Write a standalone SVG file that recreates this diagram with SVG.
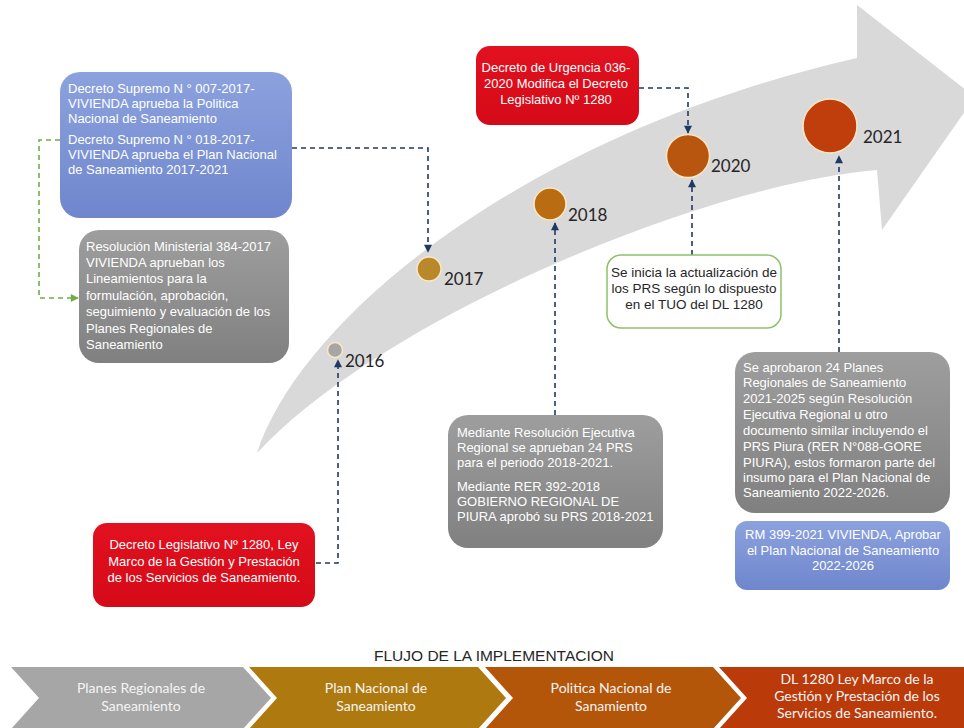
<svg xmlns="http://www.w3.org/2000/svg" width="964" height="728" viewBox="0 0 964 728">
<style>
.bt{font-family:"Liberation Sans",Arial,sans-serif;font-size:13px;fill:#ffffff}
.dk{font-family:"Liberation Sans",Arial,sans-serif;font-size:13.5px;fill:#262626}
.yr{font-family:Lato,"Open Sans",sans-serif;font-size:17px;fill:#262626}
.ch{font-family:Lato,"Open Sans",sans-serif;font-size:14px;fill:#f5f5f5}
.ttl{font-family:"Liberation Sans",Arial,sans-serif;font-size:15.5px;fill:#262626}
.cn{fill:none;stroke:#1f3864;stroke-width:1.6;stroke-dasharray:5 4}
.cg{fill:none;stroke:#70ad47;stroke-width:1.6;stroke-dasharray:5 4}
.dot{stroke:#fbe7c2;stroke-width:1.5}
</style>
<defs>
<linearGradient id="gBlue" x1="0" y1="0" x2="0" y2="1"><stop offset="0" stop-color="#8ca2de"/><stop offset="1" stop-color="#6f86cd"/></linearGradient>
<linearGradient id="gGray" x1="0" y1="0" x2="0" y2="1"><stop offset="0" stop-color="#9e9e9e"/><stop offset="1" stop-color="#808080"/></linearGradient>
<linearGradient id="gRed" x1="0" y1="0" x2="0" y2="1"><stop offset="0" stop-color="#e2111f"/><stop offset="1" stop-color="#d50a18"/></linearGradient>
<marker id="ah" viewBox="0 0 10 10" refX="9" refY="5" markerWidth="10" markerHeight="8" markerUnits="userSpaceOnUse" orient="auto"><path d="M0,0 L10,5 L0,10 Z" fill="#1f3864"/></marker>
<marker id="ahg" viewBox="0 0 10 10" refX="9" refY="5" markerWidth="10" markerHeight="8" markerUnits="userSpaceOnUse" orient="auto"><path d="M0,0 L10,5 L0,10 Z" fill="#70ad47"/></marker>
</defs>
<rect width="964" height="728" fill="#ffffff"/>

<g id="big-arrow">
<path d="M257,453 C300,320 520,135 857,58 L857,5 L975,97 L882,230 L877,170 C700,185 380,320 257,453 Z" fill="#d9d9d9"/>
</g>

<g id="connectors">
<path class="cg" d="M60,140 H39 V298 H78" marker-end="url(#ahg)"/>
<path class="cn" d="M292,148 H428 V252" marker-end="url(#ah)"/>
<path class="cn" d="M316,563 H338 V360" marker-end="url(#ah)"/>
<path class="cn" d="M555,415 V223" marker-end="url(#ah)"/>
<path class="cn" d="M639,88 H688 V133" marker-end="url(#ah)"/>
<path class="cn" d="M692,255 V180" marker-end="url(#ah)"/>
<path class="cn" d="M839,352 V156" marker-end="url(#ah)"/>
</g>

<g id="y2016"><circle class="dot" cx="335" cy="350" r="7.5" fill="#a6a6a6" stroke="#e6e6e6"/><text class="yr" x="345" y="367">2016</text></g>
<g id="y2017"><circle class="dot" cx="429" cy="269" r="12" fill="#b8882b"/><text class="yr" x="444" y="285">2017</text></g>
<g id="y2018"><circle class="dot" cx="550" cy="204" r="16" fill="#b96c12"/><text class="yr" x="568" y="221">2018</text></g>
<g id="y2020"><circle class="dot" cx="688" cy="156" r="21.5" fill="#b8560f"/><text class="yr" x="711" y="172">2020</text></g>
<g id="y2021"><circle class="dot" cx="830" cy="126" r="27" fill="#c03e0c"/><text class="yr" x="863" y="143">2021</text></g>

<g id="ds007">
<rect x="60" y="72" width="232" height="146" rx="20" fill="url(#gBlue)"/>
<text class="bt"><tspan x="68" y="93">Decreto Supremo N ° 007-2017-</tspan><tspan x="68" y="108">VIVIENDA aprueba la Politica</tspan><tspan x="68" y="123">Nacional de Saneamiento</tspan><tspan x="68" y="144">Decreto Supremo N ° 018-2017-</tspan><tspan x="68" y="159">VIVIENDA aprueba el Plan Nacional</tspan><tspan x="68" y="174">de Saneamiento 2017-2021</tspan></text>
</g>

<g id="rm384">
<rect x="79" y="230" width="210" height="133" rx="20" fill="url(#gGray)"/>
<text class="bt"><tspan x="86" y="251">Resolución Ministerial 384-2017</tspan><tspan x="86" y="267">VIVIENDA aprueban los</tspan><tspan x="86" y="283">Lineamientos para la</tspan><tspan x="86" y="300">formulación, aprobación,</tspan><tspan x="86" y="316">seguimiento y evaluación de los</tspan><tspan x="86" y="333">Planes Regionales de</tspan><tspan x="86" y="349">Saneamiento</tspan></text>
</g>

<g id="du036">
<rect x="476" y="46" width="163" height="79" rx="14" fill="url(#gRed)"/>
<text class="bt" text-anchor="middle"><tspan x="556" y="72">Decreto de Urgencia 036-</tspan><tspan x="556" y="88">2020 Modifica el Decreto</tspan><tspan x="556" y="104">Legislativo Nº 1280</tspan></text>
</g>

<g id="tuo">
<rect x="607" y="255" width="174" height="73" rx="14" fill="#ffffff" stroke="#8fc16b" stroke-width="1.5"/>
<text class="dk" text-anchor="middle"><tspan x="694" y="277">Se inicia la actualización de</tspan><tspan x="694" y="293">los PRS según lo dispuesto</tspan><tspan x="694" y="309">en el TUO del DL 1280</tspan></text>
</g>

<g id="rer2018">
<rect x="448" y="415" width="215" height="133" rx="20" fill="url(#gGray)"/>
<text class="bt"><tspan x="457" y="437">Mediante Resolución Ejecutiva</tspan><tspan x="457" y="452">Regional se aprueban 24 PRS</tspan><tspan x="457" y="467">para el periodo 2018-2021.</tspan><tspan x="457" y="491">Mediante RER 392-2018</tspan><tspan x="457" y="506">GOBIERNO REGIONAL DE</tspan><tspan x="457" y="521">PIURA aprobó su PRS 2018-2021</tspan></text>
</g>

<g id="prs2021">
<rect x="735" y="352" width="215" height="161" rx="20" fill="url(#gGray)"/>
<text class="bt"><tspan x="743" y="372">Se aprobaron 24 Planes</tspan><tspan x="743" y="387">Regionales de Saneamiento</tspan><tspan x="743" y="403">2021-2025 según Resolución</tspan><tspan x="743" y="419">Ejecutiva Regional u otro</tspan><tspan x="743" y="435">documento similar incluyendo el</tspan><tspan x="743" y="451">PRS Piura (RER N°088-GORE</tspan><tspan x="743" y="467">PIURA), estos formaron parte del</tspan><tspan x="743" y="482">insumo para el Plan Nacional de</tspan><tspan x="743" y="497">Saneamiento 2022-2026.</tspan></text>
</g>

<g id="rm399">
<rect x="735" y="521" width="215" height="69" rx="12" fill="url(#gBlue)"/>
<text class="bt" text-anchor="middle"><tspan x="843" y="539">RM 399-2021 VIVIENDA, Aprobar</tspan><tspan x="843" y="555">el Plan Nacional de Saneamiento</tspan><tspan x="843" y="570">2022-2026</tspan></text>
</g>

<g id="dl1280">
<rect x="93" y="523" width="222" height="84" rx="14" fill="url(#gRed)"/>
<text class="bt" text-anchor="middle"><tspan x="204" y="549">Decreto Legislativo Nº 1280, Ley</tspan><tspan x="204" y="566">Marco de la Gestión y Prestación</tspan><tspan x="204" y="582">de los Servicios de Saneamiento.</tspan></text>
</g>

<g id="flujo">
<text class="ttl" x="494" y="661" text-anchor="middle">FLUJO DE LA IMPLEMENTACION</text>
<g id="f1"><path d="M11,667 H243 L271,698 L243,729 H11 L39,698 Z" fill="#a6a6a6"/><text class="ch" text-anchor="middle"><tspan x="141" y="693">Planes Regionales de</tspan><tspan x="141" y="711">Saneamiento</tspan></text></g>
<g id="f2"><path d="M249,667 H478 L506,698 L478,729 H249 L277,698 Z" fill="#ae7a10"/><text class="ch" text-anchor="middle"><tspan x="376" y="693">Plan Nacional de</tspan><tspan x="376" y="711">Saneamiento</tspan></text></g>
<g id="f3"><path d="M485,667 H713 L741,698 L713,729 H485 L513,698 Z" fill="#b4560a"/><text class="ch" text-anchor="middle"><tspan x="611" y="693">Politica Nacional de</tspan><tspan x="611" y="711">Sanamiento</tspan></text></g>
<g id="f4"><path d="M719,667 H980 V729 H719 L747,698 Z" fill="#ba3a0a"/><text class="ch" text-anchor="middle"><tspan x="857" y="684">DL 1280 Ley Marco de la</tspan><tspan x="857" y="701">Gestión y Prestación de los</tspan><tspan x="857" y="718">Servicios de Saneamiento.</tspan></text></g>
</g>
</svg>
